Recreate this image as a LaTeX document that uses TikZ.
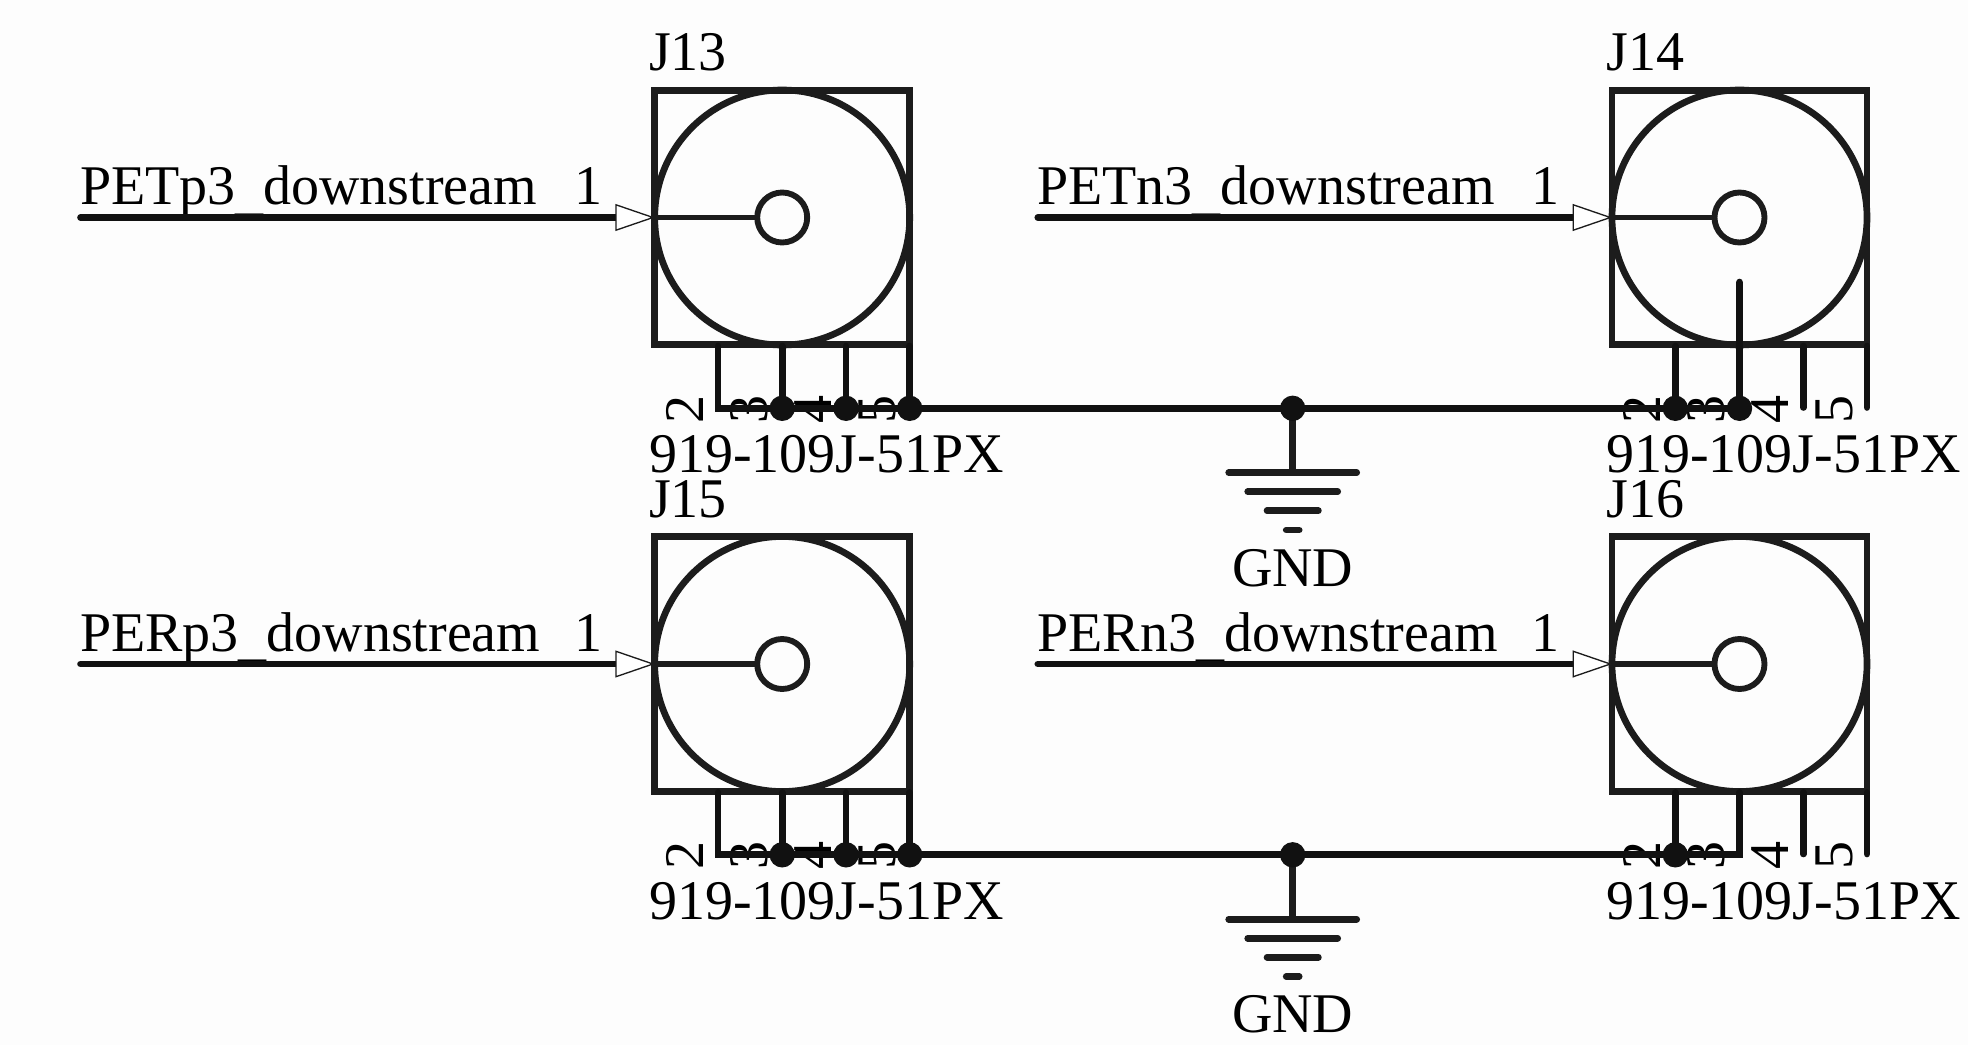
\documentclass[tikz,border=0pt]{standalone}
\usepackage{fontspec}
\setmainfont[Kerning=Off]{Liberation Serif}
\definecolor{paper}{HTML}{FDFDFD}
\definecolor{ink}{HTML}{1C1C1C}
\definecolor{wirec}{HTML}{111111}
\tikzset{
  x=0.75pt,y=-0.75pt,
  lbl/.style={inner sep=0pt,outer sep=0pt,anchor=base west,text=black,font=\fontsize{42pt}{44pt}\selectfont},
  pinnum/.style={lbl,rotate=90},
  body/.style={draw=ink,line width=5pt,line join=miter,fill=none},
  ring/.style={draw=ink,line width=4.4pt},
  wire/.style={draw=wirec,line width=5pt,line cap=round,line join=miter},
  inner wire/.style={draw=ink,line width=4.2pt},
  pintip/.style={draw=ink,line width=1pt,fill=white,line join=miter},
  dot/.style={fill=wirec},
  gndbar/.style={draw=ink,line width=5pt,line cap=round},
}
% #1 designator, #2 dx, #3 dy, #4 net name
\newcommand{\coaxpart}[4]{%
\begin{scope}[shift={(#2,#3)}]
  \node[lbl] (#1ref) at (649,70.8) {#1};
  \node[lbl] (#1val) at (649,472.5) {919-109J-51PX};
  \node[lbl] (#1net) at (80,205) {#4\raisebox{-3pt}{\_}downstream};
  \node[lbl] (#1one) at (574,205) {1};
  \node[pinnum] (#1n2) at (703,423) {2};
  \node[pinnum] (#1n3) at (767,423) {3};
  \node[pinnum] (#1n4) at (831,423) {4};
  \node[pinnum] (#1n5) at (895,423) {5};
  \coordinate (#1wire) at (80.5,217.5);
  \coordinate (#1tipb) at (616,217.5);
  \coordinate (#1tip) at (653,217.5);
  \coordinate (#1ctr) at (782.2,217.5);
  \coordinate (#1pin) at (757.2,217.5);
  \coordinate (#1t2) at (718,346);
  \coordinate (#1t3) at (782.2,346);
  \coordinate (#1t4) at (846,346);
  \coordinate (#1t5) at (909.7,346);
  \coordinate (#1b2) at (718,408.3);
  \coordinate (#1b3) at (782.2,408.3);
  \coordinate (#1b4) at (846,408.3);
  \coordinate (#1b5) at (909.7,408.3);
  \draw[body] (654.7,90.3) rectangle (909.7,344.7);
  \draw[body] (#1ctr) circle[radius=127.5];
  \draw[ring] (#1ctr) circle[radius=25];
  \draw[inner wire] (#1tip) -- (#1pin);
  \draw[wire] (#1wire) -- (#1tipb);
  \draw[pintip] (616,204.8) -- (#1tip) -- (616,230.2) -- cycle;
\end{scope}}
\newcommand{\gndsym}[2]{%
\begin{scope}[shift={(0,#2)}]
  \coordinate (#1top) at (1292.7,408.3);
  \coordinate (#1m1) at (1292.7,472.7);
  \draw[gndbar] (1228.7,472.7) -- (#1m1) -- (1356.7,472.7);
  \draw[gndbar] (1247.7,491.7) -- (1337.7,491.7);
  \draw[gndbar] (1267,510.7) -- (1318.4,510.7);
  \draw[gndbar] (1286.2,530) -- (1299.2,530);
  \draw[ink,line width=5pt] (#1top) -- (#1m1);
  \fill[dot] (#1top) circle[radius=12.7];
  \node[lbl,anchor=base] (#1lbl) at (1292.7,586) {GND};
\end{scope}}
\begin{document}
\begin{tikzpicture}
\useasboundingbox (0,0) rectangle (1968,1045);
\fill[paper] (0,0) rectangle (1968,1045);
\coaxpart{J13}{0}{0}{PETp3}
\coaxpart{J14}{957.3}{0}{PETn3}
\coaxpart{J15}{0}{446.5}{PERp3}
\coaxpart{J16}{957.3}{446.5}{PERn3}
% top net
\draw[wire] (J13t2) -- (J13b2) -- (J14b3);
\draw[wire] (J13t3) -- (J13b3);
\draw[wire] (J13t4) -- (J13b4);
\draw[wire] (J13t5) -- (J13b5);
\coordinate (J14long) at (1739.5,282);
\draw[wire] (J14t2) -- (J14b2);
\draw[wire] (J14long) -- (J14b3);
\draw[wire] (J14t4) -- ++(0,61.5);
\draw[wire] (J14t5) -- ++(0,61.5);
\foreach \p in {J13b3,J13b4,J13b5,J14b2,J14b3}
  \fill[dot] (\p) circle[radius=12.7];
% bottom net
\draw[wire] (J15t2) -- (J15b2) -- (J16b3) -- (J16t3);
\draw[wire] (J15t3) -- (J15b3);
\draw[wire] (J15t4) -- (J15b4);
\draw[wire] (J15t5) -- (J15b5);
\draw[wire] (J16t2) -- (J16b2);
\draw[wire] (J16t4) -- ++(0,61.5);
\draw[wire] (J16t5) -- ++(0,61.5);
\foreach \p in {J15b3,J15b4,J15b5,J16b2}
  \fill[dot] (\p) circle[radius=12.7];
\gndsym{G1}{0}
\gndsym{G2}{446.5}
\end{tikzpicture}
\end{document}
